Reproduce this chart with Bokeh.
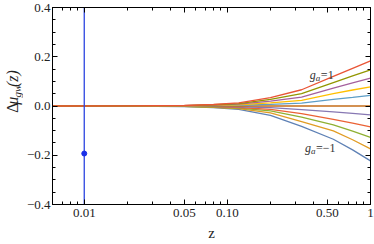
from bokeh.plotting import figure
from bokeh.layouts import row
from bokeh.models import LogAxis, LinearAxis, FixedTicker, Range1d, Label, ColumnDataSource
from bokeh.core.properties import value
from bokeh.embed import file_html
from bokeh.resources import INLINE
import math

# ---- data ----
z = [0.006, 0.02, 0.05, 0.08, 0.12, 0.2, 0.33, 0.55, 0.75, 1.0]
g_values = [-1.0, -0.8, -0.6, -0.4, -0.2, 0.0, 0.2, 0.4, 0.6, 0.8, 1.0]
mu_g_m10 = [0, -0.0003, -0.002, -0.006, -0.014, -0.038, -0.083, -0.135, -0.178, -0.223]
mu_g_m08 = [0, -0.0002, -0.0016, -0.005, -0.011, -0.028, -0.063, -0.101, -0.137, -0.174]
mu_g_m06 = [0, -0.0002, -0.0012, -0.004, -0.009, -0.020, -0.045, -0.077, -0.102, -0.127]
mu_g_m04 = [0, -0.0001, -0.0008, -0.0025, -0.006, -0.014, -0.031, -0.054, -0.070, -0.085]
mu_g_m02 = [0, -0.0001, -0.0004, -0.0012, -0.003, -0.007, -0.015, -0.024, -0.030, -0.036]
mu_g_p00 = [0, 0, 0, 0, 0, 0, 0, 0, 0, 0]
mu_g_p02 = [0, 0.0001, 0.0004, 0.0012, 0.003, 0.007, 0.012, 0.027, 0.035, 0.043]
mu_g_p04 = [0, 0.0001, 0.0008, 0.0025, 0.005, 0.013, 0.023, 0.050, 0.065, 0.078]
mu_g_p06 = [0, 0.0002, 0.0012, 0.004, 0.008, 0.020, 0.036, 0.073, 0.094, 0.113]
mu_g_p08 = [0, 0.0002, 0.0016, 0.005, 0.010, 0.027, 0.050, 0.095, 0.122, 0.147]
mu_g_p10 = [0, 0.0003, 0.002, 0.006, 0.013, 0.034, 0.066, 0.120, 0.153, 0.183]

obs_z = [0.01]
obs_mu = [-0.193]
obs_err = [0.8]

x_ticks = [0.01, 0.05, 0.1, 0.5, 1.0]
x_tick_labels = ["0.01", "0.05", "0.10", "0.50", "1"]
y_ticks = [-0.4, -0.2, 0.0, 0.2, 0.4]
y_tick_labels = ["\u22120.4", "\u22120.2", "0.0", "0.2", "0.4"]

label_top = "=1"
label_bot = "=\u22121"
y_title_parts = ["\u0394", "\u03bc", "gw", "(z)"]

# ---- styles ----
curve_sets = [mu_g_m10, mu_g_m08, mu_g_m06, mu_g_m04, mu_g_m02, mu_g_p00,
              mu_g_p02, mu_g_p04, mu_g_p06, mu_g_p08, mu_g_p10]
colors = ["#5E81B5", "#E19C24", "#8FB032", "#EB6235", "#8778B3", "#C56E1A",
          "#5D9EC7", "#FFBF00", "#A5609D", "#929600", "#E95536"]
FONT = "Liberation Serif"

x_minor = [0.006, 0.007, 0.008, 0.009, 0.02, 0.03, 0.04, 0.06, 0.07, 0.08, 0.09,
           0.2, 0.3, 0.4, 0.6, 0.7, 0.8, 0.9]
y_minor = [-0.35, -0.3, -0.25, -0.15, -0.1, -0.05, 0.05, 0.1, 0.15, 0.25, 0.3, 0.35]

# ---- narrow figure holding the vertical y-axis title ----
pt = figure(width=23, height=244, x_range=Range1d(0, 23), y_range=Range1d(0, 244),
            output_backend="svg", toolbar_location=None,
            x_axis_location=None, y_axis_location=None, min_border=0)
pt.grid.visible = False
pt.outline_line_color = None
# (pixel-like positions of the title pieces; style per piece)
title_pos_y = [113.5, 123.5, 132.5, 145.5]
title_pos_x = [12, 12, 16, 12]
title_styles = ["normal", "italic", "italic", "italic"]
title_sizes = ["16px", "16px", "11px", "16px"]
for txt, tx, ty, st, sz in zip(y_title_parts, title_pos_x, title_pos_y, title_styles, title_sizes):
    pt.text(x=[tx], y=[ty], text=[txt], angle=math.pi / 2, text_align="left",
            text_baseline="middle", text_font=value(FONT), text_font_style=st,
            text_font_size=sz, text_color="#222222")

# ---- main figure ----
p = figure(width=351, height=244, x_axis_type="log",
           x_range=Range1d(0.006, 1.0), y_range=Range1d(-0.4, 0.4),
           output_backend="svg", toolbar_location=None,
           min_border_left=29, min_border_right=4, min_border_top=7, min_border_bottom=40)
p.grid.visible = False
p.outline_line_color = "black"
p.outline_line_width = 1
p.background_fill_color = "white"
p.border_fill_color = "white"

xt = FixedTicker(ticks=x_ticks, minor_ticks=x_minor)
yt = FixedTicker(ticks=y_ticks, minor_ticks=y_minor)


def style_axis(ax, labels=True):
    ax.axis_line_color = "black"
    ax.major_tick_line_color = "black"
    ax.minor_tick_line_color = "black"
    ax.major_tick_in = 5
    ax.major_tick_out = 0
    ax.minor_tick_in = 3
    ax.minor_tick_out = 0
    ax.major_label_text_font = FONT
    ax.major_label_text_font_size = "13px"
    ax.major_label_text_color = "#222222"
    if not labels:
        ax.major_label_text_font_size = "1px"
        ax.major_label_text_alpha = 0
        ax.major_label_standoff = 0


xa = p.xaxis[0]
xa.ticker = xt
style_axis(xa)
xa.major_label_overrides = {t: s for t, s in zip(x_ticks, x_tick_labels)}
xa.major_label_standoff = 4
xa.axis_label = "z"
xa.axis_label_text_font = FONT
xa.axis_label_text_font_style = "normal"
xa.axis_label_text_font_size = "15px"
xa.axis_label_standoff = 5
xa.axis_label_text_color = "#222222"

ya = p.yaxis[0]
ya.ticker = yt
style_axis(ya)
ya.major_label_overrides = {t: s for t, s in zip(y_ticks, y_tick_labels)}
ya.major_label_standoff = 2

top = LogAxis(ticker=FixedTicker(ticks=x_ticks, minor_ticks=x_minor))
style_axis(top, labels=False)
p.add_layout(top, "above")
right = LinearAxis(ticker=FixedTicker(ticks=y_ticks, minor_ticks=y_minor))
style_axis(right, labels=False)
p.add_layout(right, "right")

for vals, col in zip(curve_sets, colors):
    src = ColumnDataSource(dict(z=z, mu=vals))
    p.line("z", "mu", source=src, line_color=col, line_width=1.3)

obs = ColumnDataSource(dict(z=obs_z, mu=obs_mu,
                            lo=[m - e for m, e in zip(obs_mu, obs_err)],
                            hi=[m + e for m, e in zip(obs_mu, obs_err)]))
p.segment(x0="z", y0="lo", x1="z", y1="hi", source=obs, line_color="#2b45e0", line_width=1.3)
p.scatter("z", "mu", source=obs, size=5, fill_color="#1a30e8", line_color="#1a30e8")

# curve labels (annotation positions)
for (lx, ly, txt) in [(0.377, 0.127, label_top), (0.348, -0.170, label_bot)]:
    p.add_layout(Label(x=lx, y=ly, text="g", text_font=FONT, text_font_style="italic",
                       text_font_size="12px", text_color="#333333", text_baseline="alphabetic"))
    p.add_layout(Label(x=lx, y=ly, x_offset=6, y_offset=-3, text="a", text_font=FONT,
                       text_font_style="italic", text_font_size="9px", text_color="#333333",
                       text_baseline="alphabetic"))
    p.add_layout(Label(x=lx, y=ly, x_offset=11, text=txt, text_font=FONT,
                       text_font_size="12px", text_color="#333333", text_baseline="alphabetic"))

layout = row(pt, p, spacing=0)
open("out.html", "w").write(file_html(layout, INLINE))
